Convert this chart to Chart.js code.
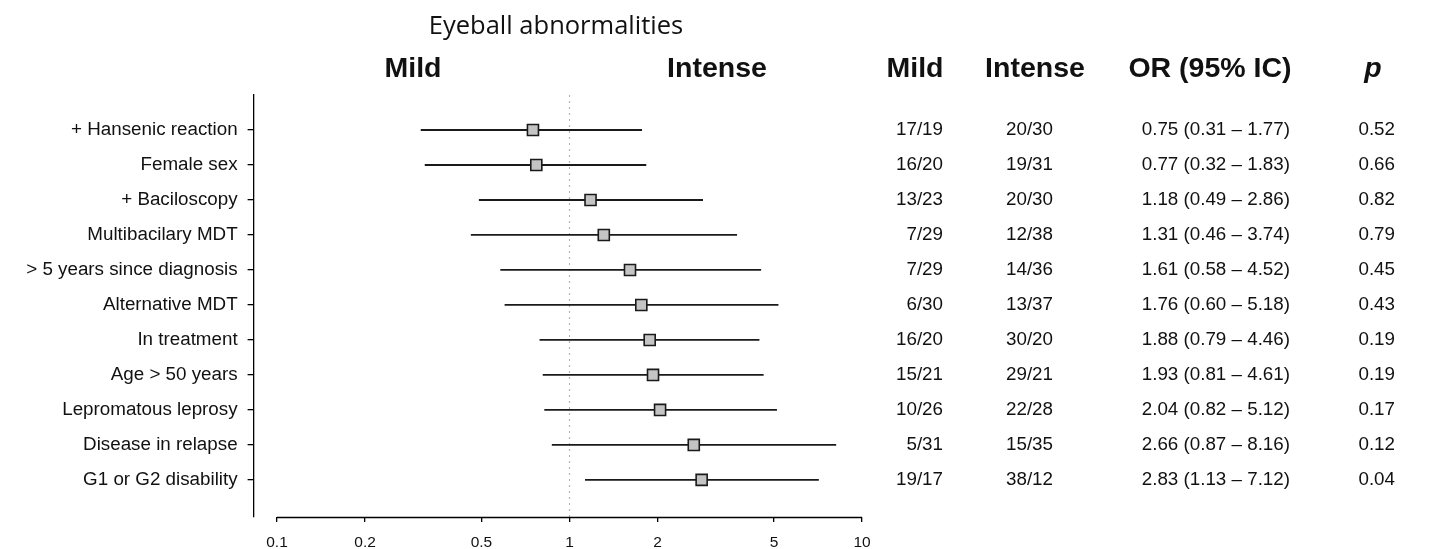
<!DOCTYPE html>
<html>
<head>
<meta charset="utf-8">
<title>Eyeball abnormalities</title>
<script src="https://cdn.jsdelivr.net/npm/chart.js@4/dist/chart.umd.min.js"></script>
<style>
    html, body { margin: 0; padding: 0; background: #fff; }
    #box { width: 1429px; height: 549px; }
</style>
</head>
<body>
<div id="box"><canvas id="dvCanvas"></canvas></div>
<script>
    //rows from top to bottom
    var labels = ['+ Hansenic reaction', 'Female sex', '+ Baciloscopy', 'Multibacilary MDT',
        '> 5 years since diagnosis', 'Alternative MDT', 'In treatment', 'Age > 50 years',
        'Lepromatous leprosy', 'Disease in relapse', 'G1 or G2 disability'];
    var oddsRatio = [0.75, 0.77, 1.18, 1.31, 1.61, 1.76, 1.88, 1.93, 2.04, 2.66, 2.83];
    var ciLow = [0.31, 0.32, 0.49, 0.46, 0.58, 0.60, 0.79, 0.81, 0.82, 0.87, 1.13];
    var ciHigh = [1.77, 1.83, 2.86, 3.74, 4.52, 5.18, 4.46, 4.61, 5.12, 8.16, 7.12];
    var mildCount = ['17/19', '16/20', '13/23', '7/29', '7/29', '6/30', '16/20', '15/21', '10/26', '5/31', '19/17'];
    var intenseCount = ['20/30', '19/31', '20/30', '12/38', '14/36', '13/37', '30/20', '29/21', '22/28', '15/35', '38/12'];
    var pValues = ['0.52', '0.66', '0.82', '0.79', '0.45', '0.43', '0.19', '0.19', '0.17', '0.12', '0.04'];
    var xTicks = [0.1, 0.2, 0.5, 1, 2, 5, 10];

    var rowPos = labels.map(function (l, i) { return i + 1; });
    var arial = "'Liberation Sans', Arial, sans-serif";

    //one dataset per confidence interval line
    var datasets = [];
    for (var i = 0; i < labels.length; i++) {
        datasets.push({
            type: 'line',
            data: [{ x: ciLow[i], y: rowPos[i] }, { x: ciHigh[i], y: rowPos[i] }],
            borderColor: '#1a1a1a',
            borderWidth: 1.8,
            pointRadius: 0,
            order: 2
        });
    }
    //point estimates
    datasets.push({
        type: 'scatter',
        data: oddsRatio.map(function (v, i) { return { x: v, y: rowPos[i] }; }),
        pointStyle: 'rect',
        pointRadius: 7.8,
        backgroundColor: '#c4c4c4',
        borderColor: '#1a1a1a',
        borderWidth: 1.6,
        order: 1
    });

    //dotted line at 1, x axis line and the table on the right
    var forestExtras = {
        id: 'forestExtras',
        beforeDatasetsDraw: function (chart) {
            var ctx = chart.ctx, xs = chart.scales.x, area = chart.chartArea;
            var x1 = xs.getPixelForValue(1);
            ctx.save();
            ctx.strokeStyle = '#b5b5b5';
            ctx.lineWidth = 1.2;
            ctx.setLineDash([2, 4]);
            ctx.beginPath();
            ctx.moveTo(x1, area.top);
            ctx.lineTo(x1, area.bottom);
            ctx.stroke();
            ctx.restore();
        },
        afterDraw: function (chart) {
            var ctx = chart.ctx, xs = chart.scales.x, ys = chart.scales.y;
            ctx.save();
            //bottom axis only spans 0.1 - 10
            ctx.strokeStyle = '#000';
            ctx.lineWidth = 1.3;
            ctx.beginPath();
            ctx.moveTo(xs.getPixelForValue(xTicks[0]), xs.top + 0.5);
            ctx.lineTo(xs.getPixelForValue(xTicks[xTicks.length - 1]), xs.top + 0.5);
            ctx.stroke();

            //title
            ctx.fillStyle = '#111';
            ctx.textAlign = 'center';
            ctx.textBaseline = 'alphabetic';
            ctx.font = "25.5px 'Open Sans', 'Noto Sans', sans-serif";
            ctx.fillText('Eyeball abnormalities', 556, 34);

            //headers
            ctx.font = 'bold 28.5px ' + arial;
            ctx.fillText('Mild', 413, 77);
            ctx.fillText('Intense', 717, 77);
            ctx.fillText('Mild', 915, 77);
            ctx.fillText('Intense', 1035, 77);
            ctx.fillText('OR (95% IC)', 1210, 77);
            ctx.font = 'italic bold 28.5px ' + arial;
            ctx.fillText('p', 1373, 77);

            //table values
            ctx.font = '18.8px ' + arial;
            ctx.textAlign = 'right';
            ctx.textBaseline = 'middle';
            for (var i = 0; i < labels.length; i++) {
                var y = ys.getPixelForValue(rowPos[i]);
                var or = oddsRatio[i].toFixed(2) + ' (' + ciLow[i].toFixed(2) + ' \u2013 ' + ciHigh[i].toFixed(2) + ')';
                ctx.fillText(mildCount[i], 943, y);
                ctx.fillText(intenseCount[i], 1053, y);
                ctx.fillText(or, 1290, y);
                ctx.fillText(pValues[i], 1395, y);
            }
            ctx.restore();
        }
    };

    var ctx = document.getElementById('dvCanvas').getContext('2d');
    var myChart = new Chart(ctx, {
        data: { datasets: datasets },
        plugins: [forestExtras],
        options: {
            responsive: true,
            maintainAspectRatio: false,
            animation: false,
            events: [],
            layout: { padding: { top: 95, right: 543.6, left: 0, bottom: 0 } },
            plugins: {
                legend: { display: false },
                tooltip: { enabled: false }
            },
            scales: {
                x: {
                    type: 'logarithmic',
                    min: Math.pow(10, -1.08),
                    max: Math.pow(10, 1.08),
                    afterBuildTicks: function (scale) {
                        scale.ticks = xTicks.map(function (v) { return { value: v }; });
                    },
                    afterFit: function (scale) { scale.height = 32; },
                    border: { display: false },
                    grid: { drawOnChartArea: false, drawTicks: true, tickLength: 5, color: '#000', lineWidth: 1.3 },
                    ticks: {
                        autoSkip: false,
                        maxRotation: 0,
                        padding: 11,
                        color: '#111',
                        font: { family: arial, size: 15.5 },
                        callback: function (v) { return String(v); }
                    }
                },
                y: {
                    type: 'linear',
                    reverse: true,
                    min: 0,
                    max: 12.06,
                    afterBuildTicks: function (scale) {
                        scale.ticks = rowPos.map(function (v) { return { value: v }; });
                    },
                    afterFit: function (scale) { scale.width = 253.6; },
                    border: { display: true, color: '#000', width: 1.3 },
                    grid: { drawOnChartArea: false, drawTicks: true, tickLength: 6, color: '#000', lineWidth: 1.3 },
                    ticks: {
                        autoSkip: false,
                        padding: 10,
                        color: '#111',
                        font: { family: arial, size: 18.8 },
                        callback: function (v) { return labels[v - 1]; }
                    }
                }
            }
        }
    });
</script>
</body>
</html>
